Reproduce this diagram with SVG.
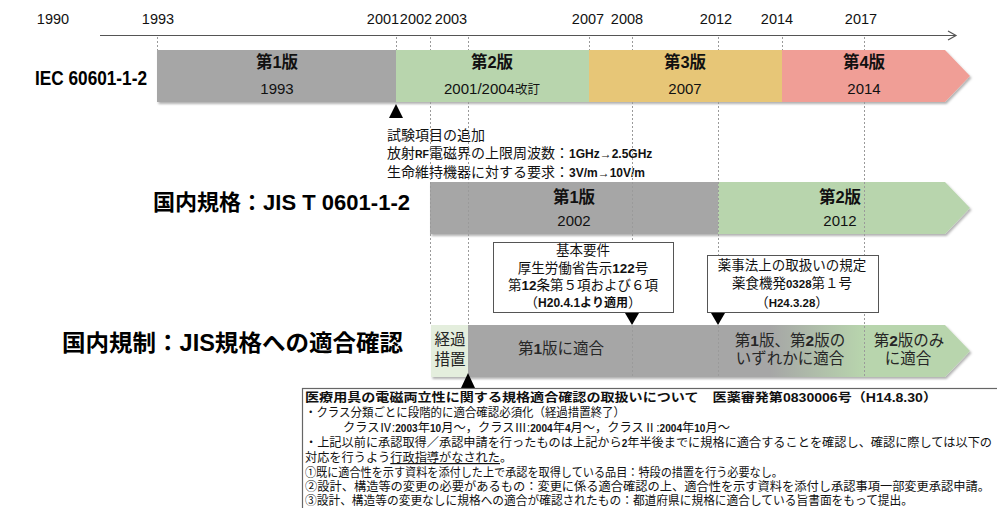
<svg xmlns="http://www.w3.org/2000/svg" width="997" height="508" viewBox="0 0 997 508">
<style>
text{font-family:"Liberation Sans","Noto Sans CJK JP",sans-serif;fill:#111}
.yr{font-size:14.5px;text-anchor:middle}
.ver{font-size:16.5px;font-weight:bold;text-anchor:middle}
.vy{font-size:15px;text-anchor:middle}
.lbl{font-weight:bold;fill:#000}
.note{font-size:14px}
.b{font-weight:bold}
.cal{font-size:13.5px;text-anchor:middle}
.bar3{font-size:15.5px;text-anchor:middle;fill:#262626}
.box{font-size:12.2px}
.dash{stroke:#9a9a9a;stroke-width:1;stroke-dasharray:2,2;fill:none}
.grey{fill:#a6a6a6}
.green{fill:#b8d5ad}
.yellow{fill:#e7c677}
.pink{fill:#f09e96}
</style>
<defs>
<filter id="sh" x="-5%" y="-20%" width="110%" height="150%">
<feDropShadow dx="1.5" dy="2" stdDeviation="1.2" flood-color="#000" flood-opacity="0.3"/>
</filter>
<linearGradient id="gr3" gradientUnits="userSpaceOnUse" x1="770" y1="0" x2="864" y2="0">
<stop offset="0" stop-color="#a6a6a6"/>
<stop offset="1" stop-color="#b8d5ad"/>
</linearGradient>
</defs>
<rect width="997" height="508" fill="#fff"/>

<g id="axis">
<line x1="100" y1="35.5" x2="956" y2="35.5" stroke="#555" stroke-width="1.2"/>
<polyline points="948,31 956,35.5 948,40" fill="none" stroke="#555" stroke-width="1.2"/>
<text class="yr" x="53" y="24">1990</text>
<text class="yr" x="158" y="24">1993</text>
<text class="yr" x="383" y="24">2001</text>
<text class="yr" x="416" y="24">2002</text>
<text class="yr" x="451" y="24">2003</text>
<text class="yr" x="588" y="24">2007</text>
<text class="yr" x="627" y="24">2008</text>
<text class="yr" x="716" y="24">2012</text>
<text class="yr" x="777" y="24">2014</text>
<text class="yr" x="861" y="24">2017</text>
</g>

<g id="iec-label"><text class="lbl" x="35" y="85" font-size="21" textLength="112" lengthAdjust="spacingAndGlyphs">IEC 60601-1-2</text></g>

<g id="iec-bar" filter="url(#sh)">
<rect class="grey" x="157" y="50" width="239" height="52"/>
<rect class="green" x="396" y="50" width="193" height="52"/>
<rect class="yellow" x="589" y="50" width="193" height="52"/>
<path class="pink" d="M782,50 H945 L970,76 L945,102 H782 Z"/>
</g>
<g id="iec-ed1"><text class="ver" x="277" y="68">第1版</text><text class="vy" x="277" y="94">1993</text></g>
<g id="iec-ed2"><text class="ver" x="492" y="68">第2版</text><text class="vy" x="492" y="94">2001/2004<tspan font-size="12.5">改訂</tspan></text></g>
<g id="iec-ed3"><text class="ver" x="685" y="68">第3版</text><text class="vy" x="685" y="94">2007</text></g>
<g id="iec-ed4"><text class="ver" x="864" y="68">第4版</text><text class="vy" x="864" y="94">2014</text></g>

<g id="iec-change-note">
<text class="note" x="387" y="140">試験項目の追加</text>
<text class="note" x="387" y="158">放射<tspan class="b" font-size="10.5">RF</tspan>電磁界の上限周波数：<tspan class="b" font-size="12">1GHz→2.5GHz</tspan></text>
<text class="note" x="387" y="177">生命維持機器に対する要求：<tspan class="b" font-size="12">3V/m→10V/m</tspan></text>
</g>

<g id="jis-label"><text class="lbl" x="153" y="210" font-size="22" textLength="257" lengthAdjust="spacingAndGlyphs">国内規格：JIS T 0601-1-2</text></g>
<g id="jis-bar" filter="url(#sh)">
<rect class="grey" x="430" y="182" width="288" height="52"/>
<path class="green" d="M718,182 H945 L970,208 L945,234 H718 Z"/>
</g>
<g id="jis-ed1"><text class="ver" x="574" y="203">第1版</text><text class="vy" x="574" y="226">2002</text></g>
<g id="jis-ed2"><text class="ver" x="840" y="203">第2版</text><text class="vy" x="840" y="226">2012</text></g>

<g id="reg-label"><text class="lbl" x="62" y="351" font-size="23" textLength="341" lengthAdjust="spacingAndGlyphs">国内規制：JIS規格への適合確認</text></g>
<g id="reg-bar" filter="url(#sh)">
<rect x="431" y="325" width="37" height="52" fill="#e4eedd"/>
<path d="M468,325 H945 L970,351 L945,377 H468 Z" fill="url(#gr3)"/>
</g>
<g id="reg-transition"><text class="bar3" x="450" y="345">経過</text><text class="bar3" x="450" y="365">措置</text></g>
<g id="reg-ed1"><text class="bar3" x="561" y="354">第<tspan class="b">1</tspan>版に適合</text></g>
<g id="reg-either"><text class="bar3" x="790" y="346">第<tspan class="b">1</tspan>版、第<tspan class="b">2</tspan>版の</text><text class="bar3" x="790" y="364">いずれかに適合</text></g>
<g id="reg-ed2"><text class="bar3" x="909" y="346">第<tspan class="b">2</tspan>版のみ</text><text class="bar3" x="908" y="364">に適合</text></g>

<g id="connectors">
<line class="dash" x1="157.5" y1="37" x2="157.5" y2="50"/>
<line class="dash" x1="396.5" y1="37" x2="396.5" y2="50"/>
<line class="dash" x1="430.5" y1="37" x2="430.5" y2="50"/>
<line class="dash" x1="430.5" y1="102" x2="430.5" y2="325"/>
<line class="dash" x1="468.5" y1="37" x2="468.5" y2="50"/>
<line class="dash" x1="468.5" y1="102" x2="468.5" y2="325"/>
<line class="dash" x1="589.5" y1="37" x2="589.5" y2="50"/>
<line class="dash" x1="632.5" y1="37" x2="632.5" y2="50"/>
<line class="dash" x1="632.5" y1="102" x2="632.5" y2="377"/>
<line class="dash" x1="718.5" y1="37" x2="718.5" y2="50"/>
<line class="dash" x1="718.5" y1="102" x2="718.5" y2="377"/>
<line class="dash" x1="782.5" y1="37" x2="782.5" y2="50"/>
<line class="dash" x1="864.5" y1="37" x2="864.5" y2="50"/>
<line class="dash" x1="864.5" y1="102" x2="864.5" y2="377"/>
<polygon points="389,118 403,118 396,104" fill="#000"/>
<polygon points="461,388 475,388 468,373" fill="#000"/>
<polygon points="625,313 639,313 632,325" fill="#000"/>
<polygon points="711,313 725,313 718,325" fill="#000"/>
</g>

<g id="callout-basic">
<rect x="493.5" y="242.5" width="180" height="70" fill="#fff" stroke="#555" stroke-width="1"/>
<text class="cal" x="583" y="255">基本要件</text>
<text class="cal" x="583" y="273">厚生労働省告示<tspan class="b">122</tspan>号</text>
<text class="cal" x="583" y="290">第<tspan class="b">12</tspan>条第５項および６項</text>
<text class="cal" x="583" y="307">（<tspan class="b" font-size="12">H20.4.1より適用</tspan>）</text>
</g>

<g id="callout-law">
<rect x="707.5" y="255.5" width="171" height="57" fill="#fff" stroke="#555" stroke-width="1"/>
<text class="cal" x="792" y="270">薬事法上の取扱いの規定</text>
<text class="cal" x="792" y="288">薬食機発<tspan class="b" font-size="11.5">0328</tspan>第１号</text>
<text class="cal" x="792" y="307">（<tspan class="b" font-size="11.5">H24.3.28</tspan>）</text>
</g>

<g id="notice-box">
<rect x="302.5" y="388.5" width="710" height="130" fill="#fff" stroke="#666" stroke-width="1.2"/>
<text class="box b" x="305" y="402" font-size="13" textLength="632" lengthAdjust="spacingAndGlyphs">医療用具の電磁両立性に関する規格適合確認の取扱いについて　医薬審発第0830006号（H14.8.30）</text>
<text class="box" x="305" y="417" textLength="320" lengthAdjust="spacingAndGlyphs">・クラス分類ごとに段階的に適合確認必須化（経過措置終了）</text>
<text class="box" x="343" y="432" textLength="387" lengthAdjust="spacingAndGlyphs">クラスⅣ:<tspan class="b" font-size="10">2003</tspan>年<tspan class="b" font-size="10">10</tspan>月～，クラスⅢ:<tspan class="b" font-size="10">2004</tspan>年<tspan class="b" font-size="10">4</tspan>月～，クラスⅡ:<tspan class="b" font-size="10">2004</tspan>年<tspan class="b" font-size="10">10</tspan>月～</text>
<text class="box" x="305" y="447" textLength="687" lengthAdjust="spacingAndGlyphs">・上記以前に承認取得／承認申請を行ったものは上記から<tspan class="b" font-size="10">2</tspan>年半後までに規格に適合することを確認し、確認に際しては以下の</text>
<text class="box" x="305" y="462">対応を行うよう<tspan text-decoration="underline">行政指導がなされた</tspan>。</text>
<text class="box" x="305" y="477" textLength="478" lengthAdjust="spacingAndGlyphs">①既に適合性を示す資料を添付した上で承認を取得している品目：特段の措置を行う必要なし。</text>
<text class="box" x="305" y="491" textLength="685" lengthAdjust="spacingAndGlyphs">②設計、構造等の変更の必要があるもの：変更に係る適合確認の上、適合性を示す資料を添付し承認事項一部変更承認申請。</text>
<text class="box" x="305" y="505" textLength="608" lengthAdjust="spacingAndGlyphs">③設計、構造等の変更なしに規格への適合が確認されたもの：都道府県に規格に適合している旨書面をもって提出。</text>
</g>
</svg>
